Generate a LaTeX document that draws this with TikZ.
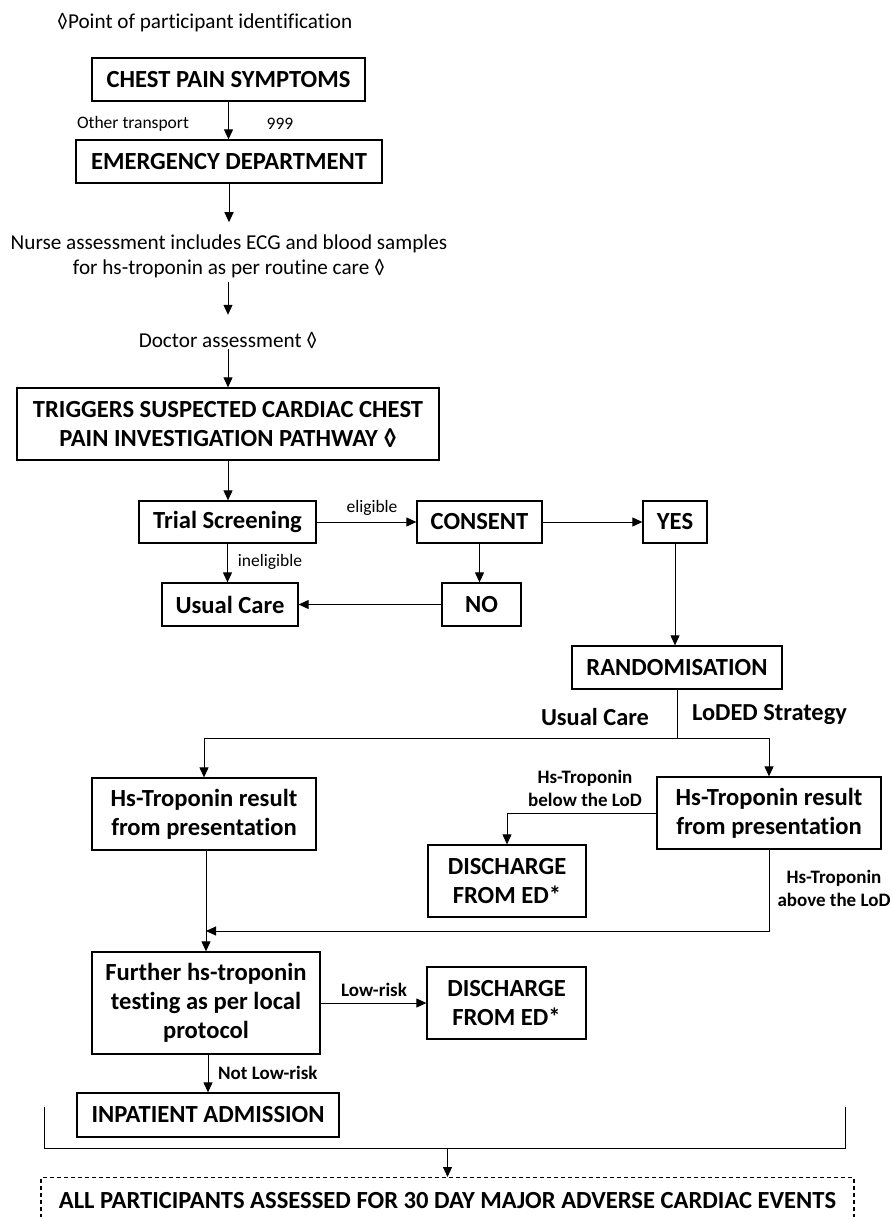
\documentclass[tikz,border=0pt]{standalone}
\usepackage{fontspec}
\setmainfont{Carlito}[Ligatures=NoCommon]
\usetikzlibrary{arrows.meta}
\begin{document}
\begin{tikzpicture}[x=1pt,y=-1pt,
  box/.style={draw, line width=1.3pt, inner sep=0pt, align=center, font=\bfseries\fontsize{24.6}{29}\selectfont},
  lbl/.style={inner sep=0pt, font=\fontsize{17.5}{21}\selectfont},
  blbl/.style={inner sep=0pt, align=center, font=\bfseries\fontsize{19}{23}\selectfont},
  bigl/.style={inner sep=0pt, font=\bfseries\fontsize{24.4}{29}\selectfont},
  txt/.style={inner sep=0pt, align=center, font=\fontsize{21.2}{25}\selectfont},
  arr/.style={-{Triangle[length=10pt,width=9pt]}, line width=1pt},
  ln/.style={line width=1pt}]
\useasboundingbox (0,0) rectangle (891,1217);
\fill[white] (0,0) rectangle (891,1217);

% title
\node[txt, anchor=west] (title) at (57,23) {◊Point of participant identification};

% top chain
\node[box, minimum width=273pt, minimum height=43pt] (chest) at (228.5,79.5) {CHEST PAIN SYMPTOMS};
\node[box, minimum width=306pt, minimum height=43pt] (ed) at (229,161.5) {EMERGENCY DEPARTMENT};
\node[lbl] (other) at (133,124) {Other transport};
\node[lbl] (nine) at (280,124) {999};
\draw[arr] (chest.south) -- (chest.south |- ed.north);

\node[txt] (nurse) at (229,256) {Nurse assessment includes ECG and blood samples\\for hs-troponin as per routine care ◊};
\draw[arr] (ed.south) -- ([yshift=12pt]nurse.north -| ed.south);

\node[txt, anchor=base, text height=32pt, text depth=2pt] (doc) at (228,347) {Doctor assessment ◊};
\draw[arr] ([yshift=-4pt]nurse.south -| doc.north) -- (doc.north);

\node[box, minimum width=422pt, minimum height=72pt] (trig) at (228,424) {TRIGGERS SUSPECTED CARDIAC CHEST\\PAIN INVESTIGATION PATHWAY ◊};
\draw[arr] (doc.south) -- (doc.south |- trig.north);

% screening row
\node[box, minimum width=177pt, minimum height=42pt] (trial) at (227.5,522) {Trial Screening};
\node[box, minimum width=125pt, minimum height=42pt] (consent) at (479.5,522) {CONSENT};
\node[box, minimum width=64pt, minimum height=42pt] (yes) at (675,522) {YES};
\node[box, minimum width=136pt, minimum height=43pt] (usual) at (230,604.5) {Usual Care};
\node[box, minimum width=79pt, minimum height=43pt] (no) at (481.5,604.5) {NO};
\draw[arr] (trig.south) -- (trig.south |- trial.north);
\draw[arr] (trial.east) -- (consent.west);
\node[lbl] (elig) at (372,508) {eligible};
\draw[arr] (consent.east) -- (yes.west);
\draw[arr] (trial.south) -- (trial.south |- usual.north);
\node[lbl] (inel) at (270,562) {ineligible};
\draw[arr] (consent.south) -- (consent.south |- no.north);
\draw[arr] (no.west) -- (usual.east);

% randomisation
\node[box, minimum width=210pt, minimum height=43pt] (rand) at (677,667.5) {RANDOMISATION};
\draw[arr] (yes.south) -- (yes.south |- rand.north);
\node[bigl] (ucl) at (595,717) {Usual Care};
\node[bigl] (lodl) at (769.5,715) {LoDED Strategy};
\coordinate (splitL) at (204,738);
\coordinate (splitR) at (769,738);
\draw[ln] (rand.south) -- (rand.south |- splitL);
\draw[ln] (splitL) -- (splitR);

\node[box, minimum width=224pt, minimum height=72pt] (lhs) at (204,814) {Hs-Troponin result\\from presentation};
\node[box, minimum width=224pt, minimum height=72pt] (rhs) at (769,813) {Hs-Troponin result\\from presentation};
\draw[arr] (splitL) -- (lhs.north);
\draw[arr] (splitR) -- (rhs.north);

\node[box, minimum width=158pt, minimum height=72pt] (dis1) at (507,881) {DISCHARGE\\FROM ED*};
\draw[arr] (rhs.west) -| (dis1.north);
\node[blbl] (below) at (585,788) {Hs-Troponin\\below the LoD};
\node[blbl] (above) at (834,888) {Hs-Troponin\\above the LoD};

\node[box, minimum width=228pt, minimum height=102pt] (further) at (206,1003) {Further hs-troponin\\testing as per local\\protocol};
\coordinate (merge) at (206,931);
\draw[arr] (rhs.south) |- (merge);
\draw[arr] (lhs.south -| further.north) -- (further.north);

\node[box, minimum width=159pt, minimum height=72pt] (dis2) at (506.5,1003) {DISCHARGE\\FROM ED*};
\draw[arr] (further.east) -- (dis2.west);
\node[blbl] (low) at (374,990) {Low-risk};

\node[box, minimum width=262pt, minimum height=44pt] (inp) at (208,1115) {INPATIENT ADMISSION};
\draw[arr] (further.south -| inp.north) -- (inp.north);
\node[blbl, anchor=west] (notlow) at (218,1073) {Not Low-risk};

% bracket
\coordinate (bl) at (44,1107);
\coordinate (br) at (845,1107);
\coordinate (bm) at (447.5,1148);
\draw[ln] (bl) -- ++(0,41) -| (br);

\node[box, dash pattern=on 4pt off 3pt, line width=1.2pt, anchor=north, minimum width=813pt, minimum height=46pt] (final) at (447.5,1177) {ALL PARTICIPANTS ASSESSED FOR 30 DAY MAJOR ADVERSE CARDIAC EVENTS};
\draw[arr] (bm) -- (final.north);
\end{tikzpicture}
\end{document}
